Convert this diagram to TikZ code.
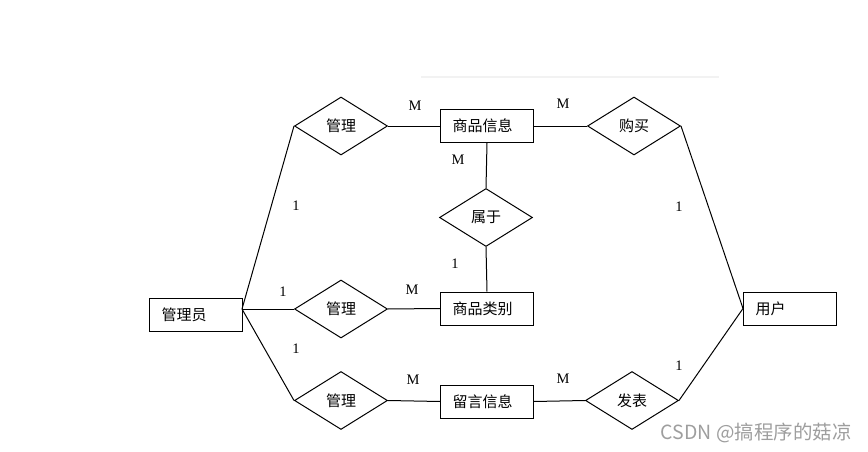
\documentclass[tikz,border=0pt]{standalone}
\usepackage{fontspec}
\setmainfont{Noto Sans CJK SC}
\newfontfamily\cardfont{Liberation Serif}
\usepackage{tikz}
\usetikzlibrary{shapes.geometric}

\begin{document}
\begin{tikzpicture}[x=1pt,y=-1pt,line width=1pt,
    entity/.style={rectangle,draw,minimum width=93pt,minimum height=33pt,text width=69pt,align=left,inner xsep=12pt,inner ysep=0pt,font=\fontsize{15}{18}\selectfont},
    relation/.style={diamond,draw,minimum width=93pt,minimum height=58pt,inner sep=0pt,font=\fontsize{15}{18}\selectfont},
    card/.style={font=\cardfont\fontsize{14.5}{16}\selectfont,inner sep=0pt}]

        \useasboundingbox (0,0) rectangle (868,452);
        \draw[black!5,line width=2pt] (421,77) -- (719,77);

        \node[entity]         (gly)  at (196, 314.5)        {管理员};
        \node[entity]         (spxx) at (487, 126)          {商品信息};
        \node[entity]         (splb) at (487, 308.5)        {商品类别};
        \node[entity]         (lyxx) at (487, 401.5)        {留言信息};
        \node[entity]         (yh)   at (790, 308.5)        {用户};

        \node[relation]       (gl1)  at (341, 126)          {管理};
        \node[relation]       (gl2)  at (341, 309)          {管理};
        \node[relation]       (gl3)  at (341, 400.5)        {管理};
        \node[relation]       (sy)   at (486, 217.5)        {属于};
        \node[relation]       (gm)   at (634, 126)          {购买};
        \node[relation]       (fb)   at (632, 400.5)        {发表};

        \coordinate           (glyport) at (242, 309);

        \draw (glyport) edge[-]  (gl1.west);
        \draw (glyport) edge[-]  (gl2.west);
        \draw (glyport) edge[-]  (gl3.west);
        \draw (gl1.east) edge[-]  (spxx.west);
        \draw (gl2.east) edge[-]  (splb.west);
        \draw (gl3.east) edge[-]  (lyxx.west);
        \draw (spxx.south) edge[-]  (sy.north);
        \draw (sy.south) edge[-]  (splb.north);
        \draw (spxx.east) edge[-]  (gm.west);
        \draw (lyxx.east) edge[-]  (fb.west);
        \draw (gm.east) edge[-]  (yh.west);
        \draw (fb.east) edge[-]  (yh.west);

        \node[card]   (c1)  at (296, 206)   {1};
        \node[card]   (c2)  at (415, 106)   {M};
        \node[card]   (c3)  at (563, 104)   {M};
        \node[card]   (c4)  at (458, 160)   {M};
        \node[card]   (c5)  at (455, 264)   {1};
        \node[card]   (c6)  at (679, 207)   {1};
        \node[card]   (c7)  at (283, 292)   {1};
        \node[card]   (c8)  at (412, 290)   {M};
        \node[card]   (c9)  at (296, 349)   {1};
        \node[card]   (c10) at (413, 380)   {M};
        \node[card]   (c11) at (563, 379)   {M};
        \node[card]   (c12) at (679, 366)   {1};

        \node[text=black!38,inner sep=0pt,anchor=east,font=\fontsize{19.5}{21}\selectfont] (csdn) at (852, 433) {CSDN @搞程序的菇凉};
      \end{tikzpicture}
\end{document}
